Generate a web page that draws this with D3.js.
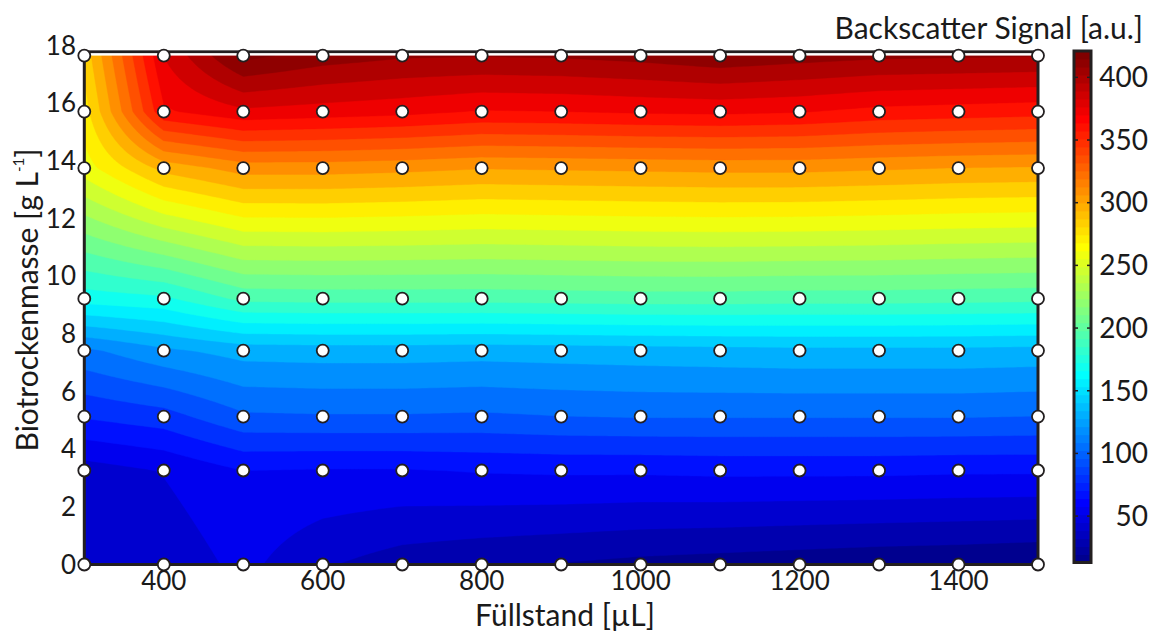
<!DOCTYPE html>
<html><head><meta charset="utf-8">
<script src="https://cdn.jsdelivr.net/npm/d3@7"></script>
<style>
body{margin:0;background:#fff;}
svg{display:block;}
text{font-family:Lato,"Open Sans",sans-serif;fill:#1a1a1a;}
</style>
</head><body>
<svg id="c" width="1157" height="631"></svg>
<script>
// ---- data ----
const xValues = [300,400,500,600,700,800,900,1000,1100,1200,1300,1400,1500]; // Füllstand [µL]
const yValues = [0,3.26,5.13,7.42,9.22,13.75,15.71,17.65];                     // Biotrockenmasse [g/L]
const sig_y0    = [40, 42, 55, 40, 32, 28, 25, 22, 20, 18, 16, 15, 13];
const sig_y3_26 = [45, 52, 64, 63, 63, 65, 66, 66, 67, 67, 67, 66, 66];
const sig_y5_13 = [78, 84, 100, 101, 101, 100, 102, 103, 103, 103, 103, 103, 102];
const sig_y7_42 = [112, 125, 133, 134, 134, 133, 134, 135, 136, 137, 137, 137, 136];
const sig_y9_22 = [172, 176, 195, 196, 196, 196, 197, 198, 198, 197, 197, 196, 195];
const sig_y13_75= [262, 298, 312, 312, 310, 307, 308, 309, 310, 310, 308, 306, 305];
const sig_y15_71= [275, 368, 380, 377, 374, 369, 370, 372, 373, 371, 366, 364, 362];
const sig_y17_65= [285, 383, 425, 415, 410, 409, 410, 413, 418, 414, 411, 410, 409];
const xTicks = [400,600,800,1000,1200,1400];
const yTicks = [0,2,4,6,8,10,12,14,16,18];
const cbTicks = [50,100,150,200,250,300,350,400];
const colorMin = 13, colorMax = 421, levelCount = 32;

const grid = [sig_y0,sig_y3_26,sig_y5_13,sig_y7_42,sig_y9_22,sig_y13_75,sig_y15_71,sig_y17_65];

// ---- MATLAB jet(64) ----
function jetMap(m){
  const n = Math.ceil(m/4);
  const u = [];
  for(let i=1;i<=n;i++) u.push(i/n);
  for(let i=1;i<n;i++) u.push(1);
  for(let i=n;i>=1;i--) u.push(i/n);
  const off = Math.ceil(n/2) - (m%4===1?1:0);
  const J = Array.from({length:m},()=>[0,0,0]);
  u.forEach((v,k)=>{
    const g = off + k + 1, r = g + n, b = g - n;
    if(g>=1&&g<=m) J[g-1][1]=v;
    if(r>=1&&r<=m) J[r-1][0]=v;
    if(b>=1&&b<=m) J[b-1][2]=v;
  });
  return J.map(c=>d3.rgb(c[0]*255,c[1]*255,c[2]*255).toString());
}
const jet = jetMap(64);

const svg = d3.select('#c');
const x = d3.scaleLinear().domain([300,1500]).range([84.3,1038]);
const y = d3.scaleLinear().domain([0,18]).range([564.5,45.5]);
const cb = d3.scaleLinear().domain([colorMin,colorMax]).range([562.5,51]);
const dark = '#231f20';

// ---- contour field (linear interpolation between measured grid points) ----
const x0 = xValues[0], x1 = xValues[xValues.length-1];
const y0 = yValues[0], y1 = yValues[yValues.length-1];
const nx = 241, ny = 354;
const dx = (x1-x0)/(nx-1), dy = (y1-y0)/(ny-1);
function sample(xv,yv){
  const ci = Math.min(xValues.length-2, Math.max(0, d3.bisectRight(xValues,xv)-1));
  const ri = Math.min(yValues.length-2, Math.max(0, d3.bisectRight(yValues,yv)-1));
  const tx = (xv-xValues[ci])/(xValues[ci+1]-xValues[ci]);
  const ty = (yv-yValues[ri])/(yValues[ri+1]-yValues[ri]);
  const a=grid[ri][ci], b=grid[ri][ci+1], c=grid[ri+1][ci], d=grid[ri+1][ci+1];
  return a*(1-tx)*(1-ty)+b*tx*(1-ty)+c*(1-tx)*ty+d*tx*ty;
}
const field = new Array(nx*ny);
for(let j=0;j<ny;j++) for(let i=0;i<nx;i++) field[j*nx+i] = sample(x0+i*dx, y0+j*dy);

const step = (colorMax-colorMin)/levelCount;
const levels = d3.range(1, levelCount+1).map(k=>colorMin + k*step);
const contours = d3.contours().size([nx,ny]).thresholds(levels)(field);

const proj = d3.geoTransform({point:function(px,py){
  const gx = Math.max(0, Math.min(nx-1, px-0.5));
  const gy = Math.max(0, Math.min(ny-1, py-0.5));
  this.stream.point(x(x0+gx*dx), y(y0+gy*dy));
}});
const path = d3.geoPath(proj);

const plot = svg.append('g');
plot.append('rect')
  .attr('x', x(x0)).attr('y', y(y1))
  .attr('width', x(x1)-x(x0)).attr('height', y(y0)-y(y1))
  .attr('fill', jet[0]);
plot.selectAll('path.band').data(contours).join('path')
  .attr('class','band')
  .attr('d', path)
  .attr('fill', (d,i)=> jet[Math.min(63, 2*(i+1))])
  .attr('stroke', (d,i)=> jet[Math.min(63, 2*(i+1))])
  .attr('stroke-width', 0.4);

// ---- frame ----
svg.append('rect')
  .attr('x', x(x0)).attr('y', y(17.78))
  .attr('width', x(x1)-x(x0)).attr('height', y(0)-y(17.78))
  .attr('fill','none').attr('stroke',dark).attr('stroke-width',3);
svg.append('rect')
  .attr('x', x(x0)+1.5).attr('y', y(17.78)+1.5)
  .attr('width', x(x1)-x(x0)-3).attr('height', Math.max(0, y(y1)-y(17.78)-1.5))
  .attr('fill','#fff');

// ---- measurement points ----
const pts = [];
yValues.forEach(yv=>xValues.forEach(xv=>pts.push([xv,yv])));
svg.append('g').selectAll('circle').data(pts).join('circle')
  .attr('cx', d=>x(d[0])).attr('cy', d=>y(d[1])).attr('r',6)
  .attr('fill','#fff').attr('stroke',dark).attr('stroke-width',1.8);

// ---- axes labels ----
svg.append('g').selectAll('text').data(xTicks).join('text')
  .attr('x', d=>x(d)).attr('y', 590).attr('text-anchor','middle')
  .attr('font-size',26).text(d=>d);
svg.append('g').selectAll('text').data(yTicks).join('text')
  .attr('x', 76).attr('y', d=>y(d)).attr('dy','0.35em').attr('text-anchor','end')
  .attr('font-size',26).text(d=>d);

svg.append('text').attr('x',565).attr('y',626).attr('text-anchor','middle')
  .attr('font-size',30).text('Füllstand [µL]');

const yt = svg.append('text').attr('transform','translate(38,300) rotate(-90)')
  .attr('text-anchor','middle').attr('font-size',30);
yt.append('tspan').text('Biotrockenmasse [g L');
yt.append('tspan').attr('dy',-14).attr('font-size',15).text('-1');
yt.append('tspan').attr('dy',14).text(']');

// ---- colorbar ----
const cbX = 1074, cbW = 17;
const cbg = svg.append('g');
cbg.selectAll('rect').data(d3.range(64)).join('rect')
  .attr('x', cbX).attr('width', cbW)
  .attr('y', i=>cb(colorMin+(i+1)*(colorMax-colorMin)/64))
  .attr('height', i=>cb(colorMin+i*(colorMax-colorMin)/64)-cb(colorMin+(i+1)*(colorMax-colorMin)/64)+0.5)
  .attr('fill', i=>jet[i]);
cbg.selectAll('line.tl').data(cbTicks).join('line').attr('class','tl')
  .attr('x1',cbX).attr('x2',cbX+4).attr('y1',d=>cb(d)).attr('y2',d=>cb(d))
  .attr('stroke',dark).attr('stroke-width',1.5);
cbg.selectAll('line.tr').data(cbTicks).join('line').attr('class','tr')
  .attr('x1',cbX+cbW-4).attr('x2',cbX+cbW).attr('y1',d=>cb(d)).attr('y2',d=>cb(d))
  .attr('stroke',dark).attr('stroke-width',1.5);
cbg.append('rect').attr('x',cbX).attr('y',cb(colorMax)).attr('width',cbW)
  .attr('height',cb(colorMin)-cb(colorMax))
  .attr('fill','none').attr('stroke',dark).attr('stroke-width',3);
cbg.selectAll('text').data(cbTicks).join('text')
  .attr('x',1148).attr('y',d=>cb(d)).attr('dy','0.35em').attr('text-anchor','end')
  .attr('font-size',28).text(d=>d);
svg.append('text').attr('x',1143).attr('y',39).attr('text-anchor','end')
  .attr('font-size',30).text('Backscatter Signal [a.u.]');
</script>
</body></html>
